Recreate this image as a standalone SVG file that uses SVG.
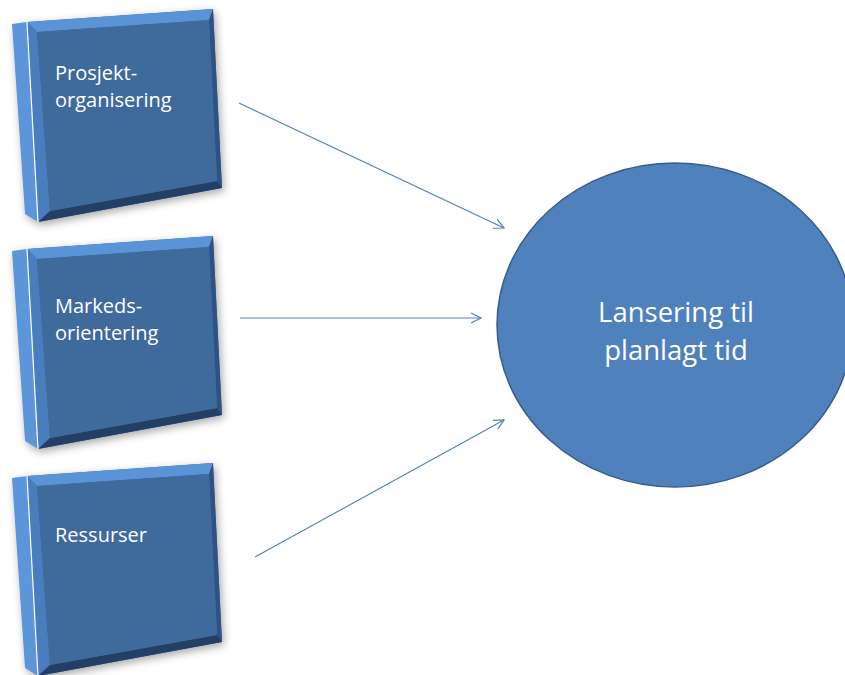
<svg xmlns="http://www.w3.org/2000/svg" xmlns:xlink="http://www.w3.org/1999/xlink" width="845" height="675" viewBox="0 0 845 675">
  <style>
    .label { font-family: "Open Sans", "Noto Sans", sans-serif; fill: #ffffff; }
    .box-label { font-size: 20px; }
    .goal-label { font-size: 27.5px; text-anchor: middle; }
    .edge { stroke: #4F81BD; stroke-width: 1.1; fill: none; marker-end: url(#arrow); }
  </style>
  <defs>
    <filter id="soft" x="-20%" y="-20%" width="140%" height="140%">
      <feDropShadow dx="2" dy="3" stdDeviation="4" flood-color="#000" flood-opacity="0.35"/>
    </filter>
    <marker id="arrow" viewBox="0 0 12 12" refX="11" refY="6" markerWidth="12" markerHeight="12" markerUnits="userSpaceOnUse" orient="auto">
      <path d="M1,1 L11,6 L1,11" fill="none" stroke="#4F81BD" stroke-width="1.2"/>
    </marker>
    <!-- bevelled slab, slightly turned, reused for all three inputs -->
    <g id="slab">
      <g filter="url(#soft)">
        <polygon points="12,24 27,22 38,222 25,214" fill="#5B95DA"/>
        <polygon points="27,22 213,9 222,188 38,222" fill="#3F6A9C"/>
      </g>
      <!-- bevels -->
      <polygon points="27,22 213,9 209,20 37,32" fill="#5A93D6"/>
      <polygon points="27,22 37,32 50,211 38,222" fill="#4A7DBE"/>
      <polygon points="213,9 222,188 217,181 209,20" fill="#2E5282"/>
      <polygon points="38,222 50,211 217,181 222,188" fill="#243F66"/>
      <!-- front face -->
      <polygon points="37,32 209,20 217,181 50,211" fill="#3F6A9C"/>
      <line x1="27" y1="22" x2="38" y2="222" stroke="#ffffff" stroke-width="1.2"/>
    </g>
  </defs>

  <rect width="845" height="675" fill="#ffffff"/>

  <g id="connectors">
    <line class="edge" x1="239" y1="103" x2="504" y2="228"/>
    <line class="edge" x1="240" y1="318" x2="481" y2="318"/>
    <line class="edge" x1="255" y1="557" x2="504" y2="420"/>
  </g>

  <g id="node-prosjektorganisering">
    <use xlink:href="#slab"/>
    <text class="label box-label" x="55" y="80">Prosjekt-</text>
    <text class="label box-label" x="55" y="107">organisering</text>
  </g>

  <g id="node-markedsorientering">
    <use xlink:href="#slab" transform="translate(0,227)"/>
    <text class="label box-label" x="55" y="313">Markeds-</text>
    <text class="label box-label" x="55" y="340">orientering</text>
  </g>

  <g id="node-ressurser">
    <use xlink:href="#slab" transform="translate(0,454)"/>
    <text class="label box-label" x="55" y="542">Ressurser</text>
  </g>

  <g id="node-lansering">
    <ellipse cx="675" cy="325" rx="178" ry="162" fill="#4F81BD" stroke="#385D8A" stroke-width="1.5"/>
    <text class="label goal-label" x="676" y="322">Lansering til</text>
    <text class="label goal-label" x="676" y="360">planlagt tid</text>
  </g>
</svg>
